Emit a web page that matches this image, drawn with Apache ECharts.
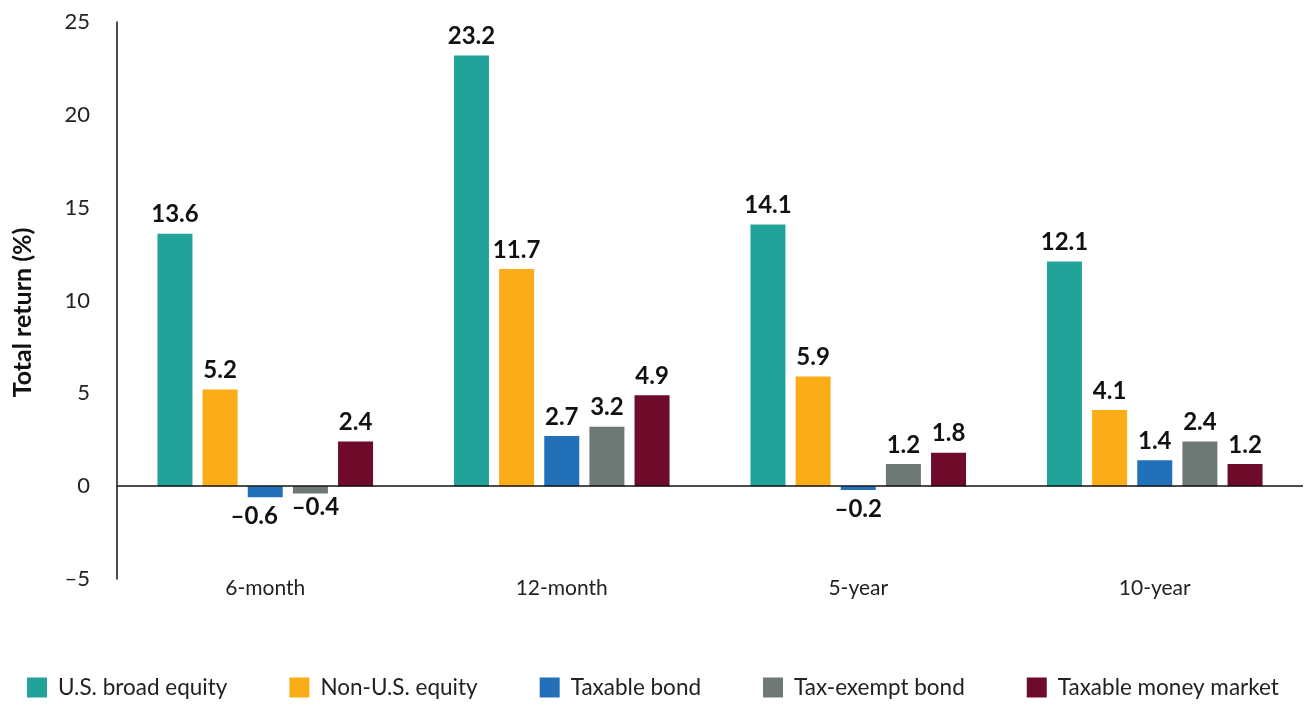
<!DOCTYPE html>
<html><head><meta charset="utf-8">
<script src="https://cdn.jsdelivr.net/npm/echarts@6/dist/echarts.min.js"></script>
<style>html,body{margin:0;padding:0;background:#fff}#c{width:1307px;height:706px}</style>
</head><body><div id="c"></div>
<script>
const categories = ['6-month', '12-month', '5-year', '10-year'];
const seriesNames = ['U.S. broad equity', 'Non-U.S. equity', 'Taxable bond', 'Tax-exempt bond', 'Taxable money market'];
const usBroadEquity = [13.6, 23.2, 14.1, 12.1];
const nonUsEquity = [5.2, 11.7, 5.9, 4.1];
const taxableBond = [-0.6, 2.7, -0.2, 1.4];
const taxExemptBond = [-0.4, 3.2, 1.2, 2.4];
const taxableMoneyMarket = [2.4, 4.9, 1.8, 1.2];
const yTicks = [-5, 0, 5, 10, 15, 20, 25];
const colors = ['#22A39A', '#FBAD18', '#2270B8', '#6E7874', '#6E0A2A'];
const allValues = [usBroadEquity, nonUsEquity, taxableBond, taxExemptBond, taxableMoneyMarket];
const FONT = 'Lato';

// separate labels of adjacent negative bars so they don't collide
function negLabelLayout(i) {
  return function (p) {
    const d = p.dataIndex;
    const v = allValues[i][d];
    if (v >= 0) return {};
    const nextNeg = i + 1 < allValues.length && allValues[i + 1][d] < 0;
    const prevNeg = i - 1 >= 0 && allValues[i - 1][d] < 0;
    if (nextNeg) return { dx: -11, dy: 0 };
    if (prevNeg) return { dx: 5, dy: -5 };
    return {};
  };
}

const series = allValues.map((vals, i) => ({
  name: seriesNames[i],
  type: 'bar',
  barWidth: 35,
  barGap: '29%',
  itemStyle: { color: colors[i] },
  data: vals.map(v => ({
    value: v,
    label: { position: v < 0 ? 'bottom' : 'top' }
  })),
  labelLayout: negLabelLayout(i),
  label: {
    show: true,
    distance: 7,
    fontFamily: FONT,
    fontWeight: 'bold',
    fontSize: 24,
    color: '#111',
    formatter: p => String(p.value).replace('-', '\u2013')
  },
  markLine: i === 0 ? {
    silent: true,
    symbol: 'none',
    label: { show: false },
    lineStyle: { color: '#111', width: 1.5, type: 'solid' },
    data: [{ yAxis: 0 }]
  } : undefined
}));

const chart = echarts.init(document.getElementById('c'));
chart.setOption({
  animation: false,
  textStyle: { fontFamily: FONT },
  grid: { left: 117, right: 4, top: 22, bottom: 127 },
  legend: {
    left: 22, bottom: 2,
    icon: 'rect', itemWidth: 20, itemHeight: 20, itemGap: 62,
    textStyle: { fontFamily: FONT, fontSize: 22.5, color: '#222', padding: [0, 0, 0, 6] },
    data: seriesNames
  },
  xAxis: {
    type: 'category',
    data: categories,
    axisLine: { show: false, onZero: false },
    axisTick: { show: false },
    axisLabel: { fontFamily: FONT, fontSize: 21, color: '#222', margin: -1 }
  },
  yAxis: {
    type: 'value',
    min: yTicks[0], max: yTicks[yTicks.length - 1], interval: 5,
    name: 'Total return (%)',
    nameLocation: 'middle',
    nameGap: 82,
    nameTextStyle: { fontFamily: FONT, fontWeight: 'bold', fontSize: 25, color: '#111', padding: [0, 0, 0, -24] },
    axisLine: { show: true, lineStyle: { color: '#111', width: 1.5 } },
    axisTick: { show: false },
    splitLine: { show: false },
    axisLabel: {
      fontFamily: FONT, fontSize: 22, color: '#222', margin: 27,
      formatter: v => String(v).replace('-', '\u2013')
    }
  },
  series: series
});
</script></body></html>
